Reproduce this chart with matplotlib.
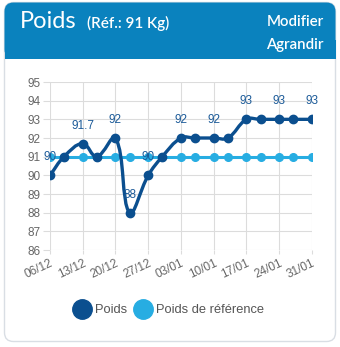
import numpy as np
import pandas as pd
import matplotlib
matplotlib.use("Agg")
import matplotlib.pyplot as plt
import matplotlib.dates as mdates
from matplotlib.path import Path
from matplotlib.patches import PathPatch, FancyBboxPatch, Rectangle
from matplotlib.lines import Line2D

# data
dates = ["06/12/2020", "09/12/2020", "13/12/2020", "16/12/2020", "20/12/2020",
         "23/12/2020", "27/12/2020", "30/12/2020", "03/01/2021", "06/01/2021",
         "10/01/2021", "13/01/2021", "17/01/2021", "20/01/2021", "24/01/2021",
         "27/01/2021", "31/01/2021"]
poids = [90, 91, 91.7, 91, 92, 88, 90, 91, 92, 92, 92, 92, 93, 93, 93, 93, 93]
poids_ref = [91] * len(dates)
labelled = [0, 2, 4, 5, 6, 8, 10, 12, 14, 16]
y_ticks = [86, 87, 88, 89, 90, 91, 92, 93, 94, 95]

DARK = "#0b4f8f"
LIGHT = "#27ade2"
HEADER = "#0a82be"
GRID = "#dcdcdc"
W, H = 340, 347

x = mdates.date2num(pd.to_datetime(dates, format="%d/%m/%Y"))

fig = plt.figure(figsize=(W / 100, H / 100), dpi=100)

# background card drawn in pixel coords
bg = fig.add_axes([0, 0, 1, 1])
bg.set_xlim(0, W)
bg.set_ylim(H, 0)
bg.axis("off")
bg.add_patch(FancyBboxPatch((4.5, 2.5), 331, 339, boxstyle="round,pad=0,rounding_size=9",
                            fc="white", ec="#d9dee4", lw=1))
bg.add_patch(FancyBboxPatch((4.5, 2.5), 331, 56, boxstyle="round,pad=0,rounding_size=9",
                            fc=HEADER, ec="none"))
bg.add_patch(Rectangle((4.5, 40), 331, 19, fc=HEADER, ec="none"))
bg.text(20, 27.5, "Poids", color="white", fontsize=17, family="Lato", va="baseline")
bg.text(87, 27.5, "(Réf.: 91 Kg)", color="white", fontsize=11, family="Lato",
        fontweight="semibold", va="baseline")
bg.text(324, 26, "Modifier", color="white", fontsize=10.8, family="Lato",
        fontweight="semibold", va="baseline", ha="right")
bg.text(324, 49, "Agrandir", color="white", fontsize=10.8, family="Lato",
        fontweight="semibold", va="baseline", ha="right")

ax = fig.add_axes([50 / W, 97 / H, 262 / W, 168 / H])
ax.set_xlim(x[0], x[-1])
ax.set_ylim(86, 95)
ax.set_facecolor("none")
for s in ax.spines.values():
    s.set_visible(False)
ax.set_yticks(y_ticks)
ax.set_xticks(x[::2])
ax.xaxis.set_major_formatter(mdates.DateFormatter("%d/%m"))
ax.grid(True, color=GRID, lw=0.8, zorder=0)
ax.tick_params(axis="y", length=5, width=0.8, color=GRID, pad=2, labelsize=8.5, labelcolor="#666666")
ax.tick_params(axis="x", length=3, width=0.8, color=GRID, pad=2, labelsize=8.5, labelcolor="#666666")
for lab in ax.get_yticklabels():
    lab.set_family("Liberation Sans")
for lab in ax.get_xticklabels():
    lab.set_family("Liberation Sans")
    lab.set_rotation(25)
    lab.set_ha("right")
    lab.set_va("top")
    lab.set_rotation_mode("anchor")


def spline(ax, xs, ys, t=0.4):
    # Chart.js style bezier through the points, computed in pixel space
    pts = ax.transData.transform(np.column_stack([xs, ys]))
    n = len(pts)
    before, after = [], []
    for i in range(n):
        prev, cur, nxt = pts[max(i - 1, 0)], pts[i], pts[min(i + 1, n - 1)]
        d01 = np.hypot(*(cur - prev))
        d12 = np.hypot(*(nxt - cur))
        tot = d01 + d12
        s01 = d01 / tot if tot else 0
        s12 = d12 / tot if tot else 0
        before.append(cur - t * s01 * (nxt - prev))
        after.append(cur + t * s12 * (nxt - prev))
    verts = [pts[0]]
    codes = [Path.MOVETO]
    for i in range(n - 1):
        verts += [after[i], before[i + 1], pts[i + 1]]
        codes += [Path.CURVE4] * 3
    verts = ax.transData.inverted().transform(np.array(verts))
    return Path(verts, codes)


ax.plot(x, poids_ref, color=LIGHT, lw=2.2, marker="o", ms=5.5, zorder=3)
ax.add_patch(PathPatch(spline(ax, x, poids), fc="none", ec=DARK, lw=2.4, zorder=4,
                       capstyle="round", joinstyle="round"))
ax.plot(x, poids, ls="none", marker="o", ms=6, color=DARK, zorder=5)

for i in labelled:
    val = poids[i]
    txt = f"{val:g}"
    ax.annotate(txt, (x[i], val), xytext=(0, 13), textcoords="offset points",
                ha="center", va="center", fontsize=8.5, color="#1b5a98",
                family="Liberation Sans", zorder=6, annotation_clip=False)

handles = [Line2D([], [], ls="none", marker="o", ms=14, color=DARK),
           Line2D([], [], ls="none", marker="o", ms=14, color=LIGHT)]
fig.legend(handles, ["Poids", "Poids de référence"], loc="center",
           bbox_to_anchor=(168 / W, 1 - 310 / H), ncol=2, frameon=False,
           handlelength=1.55, handletextpad=0.23, columnspacing=0.45,
           prop={"family": "Liberation Sans", "size": 9.3}, labelcolor="#555555")

fig.savefig("out.png", dpi=100)
